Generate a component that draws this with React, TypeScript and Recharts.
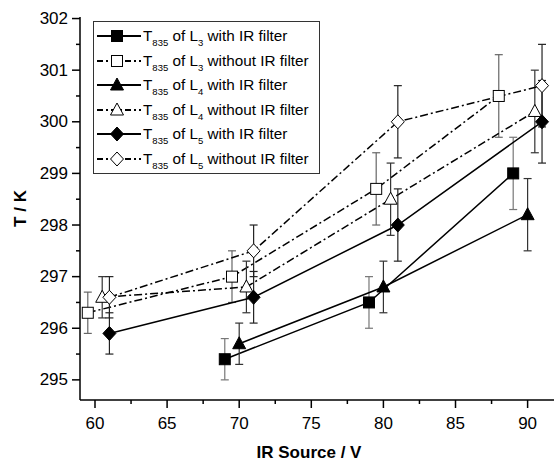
import React from 'react';
import { LineChart, Line, XAxis, YAxis, ErrorBar, Legend, Label } from 'recharts';

// IR source voltage (V), temperature T835 (K) and error (K) per series
const l3WithX = [69, 79, 89];
const l3WithT = [295.4, 296.5, 299.0];
const l3WithErr = [0.4, 0.5, 0.7];

const l3WithoutX = [59.5, 69.5, 79.5, 88];
const l3WithoutT = [296.3, 297.0, 298.7, 300.5];
const l3WithoutErr = [0.4, 0.5, 0.7, 0.8];

const l4WithX = [70, 80, 90];
const l4WithT = [295.7, 296.8, 298.2];
const l4WithErr = [0.4, 0.5, 0.7];

const l4WithoutX = [60.5, 70.5, 80.5, 90.5];
const l4WithoutT = [296.6, 296.8, 298.5, 300.2];
const l4WithoutErr = [0.4, 0.5, 0.7, 0.8];

const l5WithX = [61, 71, 81, 91];
const l5WithT = [295.9, 296.6, 298.0, 300.0];
const l5WithErr = [0.4, 0.5, 0.7, 0.8];

const l5WithoutX = [61, 71, 81, 91];
const l5WithoutT = [296.6, 297.5, 300.0, 300.7];
const l5WithoutErr = [0.4, 0.5, 0.7, 0.8];

const xTicks = [60, 62.5, 65, 67.5, 70, 72.5, 75, 77.5, 80, 82.5, 85, 87.5, 90];
const yTicks = [295, 295.5, 296, 296.5, 297, 297.5, 298, 298.5, 299, 299.5, 300, 300.5, 301, 301.5, 302];

const FONT = '"Liberation Sans", Arial, sans-serif';
const DASH_DOT = '8 3 2 3';

type Shape = 'square' | 'triangle' | 'diamond';

const toRows = (xs: number[], ts: number[], es: number[]) =>
  xs.map((x, i) => ({ x, t: ts[i], e: es[i] }));

const series = [
  { key: 'l3w', lens: '3', filled: true, shape: 'square' as Shape, errColor: '#777', data: toRows(l3WithX, l3WithT, l3WithErr) },
  { key: 'l3o', lens: '3', filled: false, shape: 'square' as Shape, errColor: '#666', data: toRows(l3WithoutX, l3WithoutT, l3WithoutErr) },
  { key: 'l4w', lens: '4', filled: true, shape: 'triangle' as Shape, errColor: '#333', data: toRows(l4WithX, l4WithT, l4WithErr) },
  { key: 'l4o', lens: '4', filled: false, shape: 'triangle' as Shape, errColor: '#333', data: toRows(l4WithoutX, l4WithoutT, l4WithoutErr) },
  { key: 'l5w', lens: '5', filled: true, shape: 'diamond' as Shape, errColor: '#222', data: toRows(l5WithX, l5WithT, l5WithErr) },
  { key: 'l5o', lens: '5', filled: false, shape: 'diamond' as Shape, errColor: '#222', data: toRows(l5WithoutX, l5WithoutT, l5WithoutErr) },
];

const Marker = ({ cx, cy, shape, filled }: { cx: number; cy: number; shape: Shape; filled: boolean }) => {
  const fill = filled ? '#000' : '#fff';
  const common = { fill, stroke: '#000', strokeWidth: 1 };
  if (shape === 'square') {
    return <rect x={cx - 5.5} y={cy - 5.5} width={11} height={11} {...common} />;
  }
  if (shape === 'triangle') {
    return <polygon points={`${cx},${cy - 7} ${cx + 6.5},${cy + 5} ${cx - 6.5},${cy + 5}`} {...common} />;
  }
  return <polygon points={`${cx},${cy - 7} ${cx + 6.5},${cy} ${cx},${cy + 7} ${cx - 6.5},${cy}`} {...common} />;
};

const XTick = (props: any) => {
  const { x, y, payload } = props;
  const major = payload.value % 5 === 0;
  return (
    <g>
      <line x1={x} x2={x} y1={y} y2={y + (major ? 8 : 4)} stroke="#000" strokeWidth={1.5} />
      {major && (
        <text x={x} y={y + 23} textAnchor="middle" dominantBaseline="central" fontSize={17} fontFamily={FONT} fill="#000">
          {payload.value}
        </text>
      )}
    </g>
  );
};

const YTick = (props: any) => {
  const { x, y, payload } = props;
  const major = Number.isInteger(payload.value);
  return (
    <g>
      <line x1={x - (major ? 8 : 4)} x2={x} y1={y} y2={y} stroke="#000" strokeWidth={1.5} />
      {major && (
        <text x={x - 12} y={y} textAnchor="end" dominantBaseline="central" fontSize={17} fontFamily={FONT} fill="#000">
          {payload.value}
        </text>
      )}
    </g>
  );
};

const sub = { fontSize: 9.5, position: 'relative' as const, top: 5 };

const renderLegend = () => (
  <div
    style={{
      border: '1px solid #333',
      background: '#fff',
      width: 227,
      padding: '2px 0',
      boxSizing: 'border-box',
      fontFamily: FONT,
      fontSize: 15.3,
      color: '#000',
    }}
  >
    {series.map((s) => (
      <div key={s.key} style={{ display: 'flex', alignItems: 'center', height: 24.5 }}>
        <svg width={46} height={20} style={{ marginLeft: 2, flexShrink: 0 }}>
          <line x1={1} x2={45} y1={10} y2={10} stroke="#000" strokeWidth={1.8} strokeDasharray={s.filled ? undefined : '6 3 2 3'} />
          <Marker cx={21} cy={10} shape={s.shape} filled={s.filled} />
        </svg>
        <span style={{ marginLeft: 1, whiteSpace: 'nowrap' }}>
          T<span style={sub}>835</span> of L<span style={sub}>{s.lens}</span> {s.filled ? 'with' : 'without'} IR filter
        </span>
      </div>
    ))}
  </div>
);

export default function App() {
  return (
    <div style={{ position: 'absolute', left: 0, top: 0, width: 554, height: 462, background: '#fff' }}>
      <LineChart width={554} height={462} margin={{ top: 17, right: 0, bottom: 0, left: 0 }}>
        <XAxis
          dataKey="x"
          type="number"
          domain={[58.96, 91.83]}
          ticks={xTicks}
          interval={0}
          allowDataOverflow
          height={62}
          tickSize={0}
          tickMargin={0}
          tickLine={false}
          tick={<XTick />}
          axisLine={{ stroke: '#000', strokeWidth: 1.5 }}
        >
          <Label
            content={({ viewBox }: any) => (
              <text
                x={viewBox.x + viewBox.width / 2 - 8}
                y={452}
                textAnchor="middle"
                dominantBaseline="central"
                fontSize={17}
                fontWeight="bold"
                fontFamily={FONT}
                fill="#000"
              >
                IR Source / V
              </text>
            )}
          />
        </XAxis>
        <YAxis
          type="number"
          domain={[294.61, 302.03]}
          ticks={yTicks}
          interval={0}
          allowDataOverflow
          width={80}
          tickSize={0}
          tickMargin={0}
          tickLine={false}
          tick={<YTick />}
          axisLine={{ stroke: '#000', strokeWidth: 1.5 }}
        >
          <Label
            content={({ viewBox }: any) => (
              <text
                x={20}
                y={viewBox.y + viewBox.height / 2}
                textAnchor="middle"
                dominantBaseline="central"
                transform={`rotate(-90, 20, ${viewBox.y + viewBox.height / 2})`}
                fontSize={17}
                fontWeight="bold"
                fontFamily={FONT}
                fill="#000"
              >
                T / K
              </text>
            )}
          />
        </YAxis>
        <Legend
          content={renderLegend}
          layout="vertical"
          align="center"
          verticalAlign="middle"
          wrapperStyle={{ left: 93, top: 21, width: 227 }}
        />
        {series.map((s) => (
          <Line
            key={s.key}
            data={s.data}
            dataKey="t"
            name={s.key}
            stroke="#000"
            strokeWidth={1.5}
            strokeDasharray={s.filled ? undefined : DASH_DOT}
            isAnimationActive={false}
            activeDot={false}
            legendType="none"
            dot={(p: any) => <Marker key={`${s.key}-${p.index}`} cx={p.cx} cy={p.cy} shape={s.shape} filled={s.filled} />}
          >
            <ErrorBar dataKey="e" direction="y" width={4} stroke={s.errColor} strokeWidth={1.2} />
          </Line>
        ))}
      </LineChart>
    </div>
  );
}
